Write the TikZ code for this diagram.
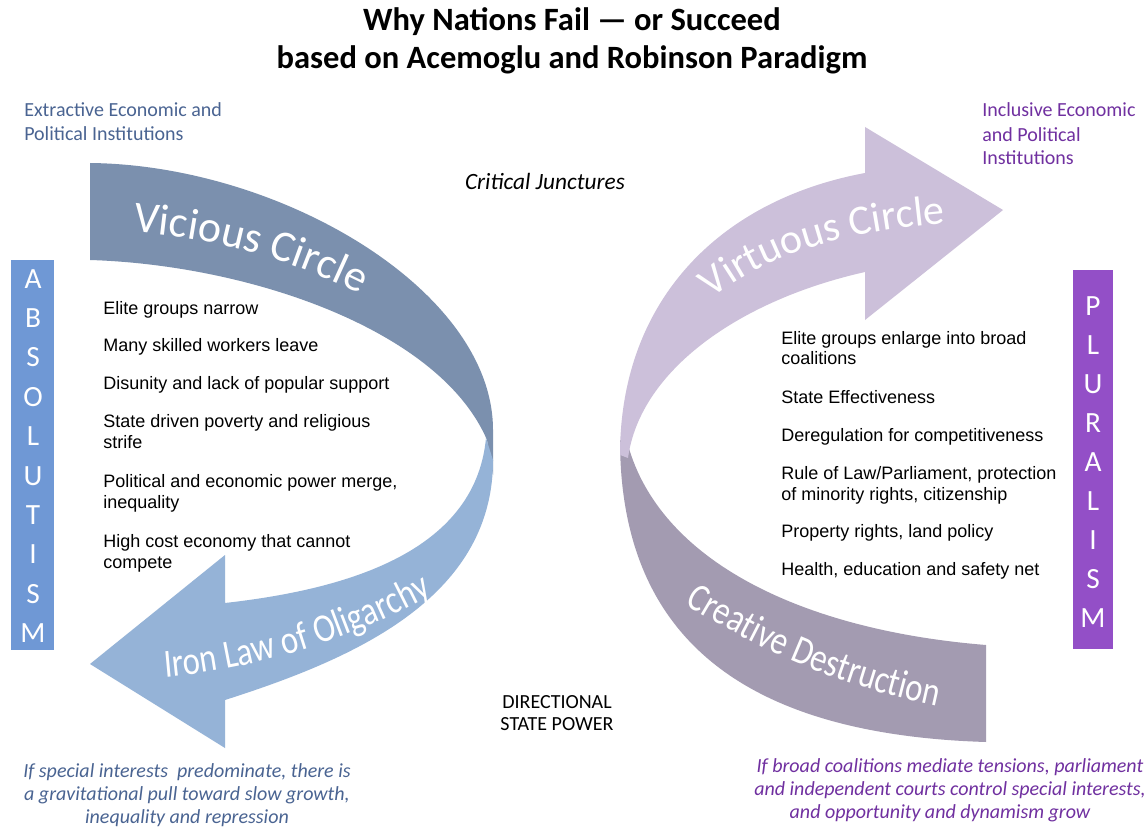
\documentclass[tikz,border=0pt]{standalone}
\usepackage{fontspec}
\setmainfont{Carlito}
\newfontfamily\arialf{Liberation Sans}
\newfontfamily\condf[FakeStretch=0.82]{Carlito}
\usetikzlibrary{decorations.text}
\definecolor{vicious}{HTML}{7B90AE}
\definecolor{iron}{HTML}{95B3D7}
\definecolor{virtuous}{HTML}{CCC0DA}
\definecolor{creative}{HTML}{A39BB1}
\definecolor{absbar}{HTML}{6F98D5}
\definecolor{plubar}{HTML}{934FC7}
\definecolor{extract}{HTML}{4A6492}
\definecolor{inclus}{HTML}{7030A0}
\tikzset{
  bullet/.style={font=\arialf\fontsize{13.5}{16}\selectfont, anchor=base west, inner sep=0pt},
  lbl/.style={font=\fontsize{15}{17}\selectfont, anchor=base west, inner sep=0pt},
  note/.style={font=\itshape\fontsize{15}{17}\selectfont, anchor=base, inner sep=0pt},
  barletter/.style={font=\fontsize{22}{24}\selectfont, text=white, anchor=base, inner sep=0pt},
  ttl/.style={font=\bfseries\fontsize{24.4}{28}\selectfont, anchor=base, inner sep=0pt},
}
\begin{document}
\begin{tikzpicture}[x=0.75pt,y=-0.75pt]
\useasboundingbox (0,0) rectangle (1148,827);
\fill[white] (0,0) rectangle (1148,827);

% title
\node[ttl] (title1) at (572,31) {Why Nations Fail — or Succeed};
\node[ttl] (title2) at (572,69) {based on Acemoglu and Robinson Paradigm};

% left ribbon
\fill[vicious] (90,163) .. controls (280,165) and (493,290) .. (493,430) -- (493,475) -- (487,440) .. controls (440,330) and (250,265) .. (90,260) -- cycle;
\fill[iron] (486,438) -- (493,460) .. controls (493,600) and (350,660) .. (225,700) -- (225,748) -- (90,664) -- (225,555) -- (225,603) .. controls (340,590) and (475,555) .. (486,438) -- cycle;

% right ribbon
\fill[creative] (620,440) .. controls (620,650) and (760,735) .. (986,742) -- (986,645) .. controls (800,630) and (660,560) .. (628,445) -- cycle;
\fill[virtuous] (620,455) .. controls (620,300) and (720,200) .. (865,173) -- (865,127) -- (1003,210) -- (865,320) -- (865,272) .. controls (740,300) and (640,370) .. (628,458) -- cycle;

% curved labels
\path[decorate, decoration={text along path, text align=left,
  text={|\fontsize{33}{36}\selectfont\color{white}|Vicious Circle}}]
  (133,232) .. controls (230,239) and (330,267) .. (440,342);
\path[decorate, decoration={text along path, text align=left,
  text={|\condf\fontsize{30}{34}\selectfont\color{white}|Iron Law of Oligarchy}}]
  (165,677) .. controls (260,669) and (370,636) .. (470,573);
\path[decorate, decoration={text along path, text align=left,
  text={|\fontsize{31.5}{34}\selectfont\color{white}|Virtuous Circle}}]
  (712,299) .. controls (774,249) and (854,229) .. (974,221);
\path[decorate, decoration={text along path, text align=left,
  text={|\condf\fontsize{30}{34}\selectfont\color{white}|Creative Destruction}}]
  (685,604) .. controls (760,650) and (840,690) .. (975,714);

% side bars
\fill[absbar] (11,260) rectangle (54,650);
\fill[plubar] (1073,270) rectangle (1113,649);
\foreach \l [count=\i from 0] in {A,B,S,O,L,U,T,I,S,M}
  \node[barletter] (abs\i) at (33,{288+39.4*\i}) {\l};
\foreach \l [count=\i from 0] in {P,L,U,R,A,L,I,S,M}
  \node[barletter] (plu\i) at (1093,{315+39.1*\i}) {\l};

% corner labels
\node[lbl, text=extract] (ex1) at (24,117) {Extractive Economic and};
\node[lbl, text=extract] (ex2) at (24,141) {Political Institutions};
\node[lbl, text=inclus] (in1) at (982,117) {Inclusive Economic};
\node[lbl, text=inclus] (in2) at (982,142) {and Political};
\node[lbl, text=inclus] (in3) at (982,165) {Institutions};

% centre labels
\node[note, text=black, font=\itshape\fontsize{17.5}{20}\selectfont] (cj) at (545,190) {Critical Junctures};
\node[font=\fontsize{15}{17}\selectfont, anchor=base, inner sep=0pt] (dsp1) at (557,708) {DIRECTIONAL};
\node[font=\fontsize{15}{17}\selectfont, anchor=base, inner sep=0pt] (dsp2) at (557,730) {STATE POWER};

% left list
\node[bullet] (l1) at (103,314) {Elite groups narrow};
\node[bullet] (l2) at (103,351) {Many skilled workers leave};
\node[bullet] (l3) at (103,389) {Disunity and lack of popular support};
\node[bullet] (l4a) at (103,427) {State driven poverty and religious};
\node[bullet] (l4b) at (103,448) {strife};
\node[bullet] (l5a) at (103,487) {Political and economic power merge,};
\node[bullet] (l5b) at (103,508) {inequality};
\node[bullet] (l6a) at (103,547) {High cost economy that cannot};
\node[bullet] (l6b) at (103,568) {compete};

% right list
\node[bullet] (r1a) at (781,344) {Elite groups enlarge into broad};
\node[bullet] (r1b) at (781,364) {coalitions};
\node[bullet] (r2) at (781,403) {State Effectiveness};
\node[bullet] (r3) at (781,441) {Deregulation for competitiveness};
\node[bullet] (r4a) at (781,479) {Rule of Law/Parliament, protection};
\node[bullet] (r4b) at (781,500) {of minority rights, citizenship};
\node[bullet] (r5) at (781,537) {Property rights, land policy};
\node[bullet] (r6) at (781,575) {Health, education and safety net};

% bottom notes
\node[note, text=extract] (bl1) at (187,777) {If special interests\ \ predominate, there is};
\node[note, text=extract] (bl2) at (187,800) {a gravitational pull toward slow growth,};
\node[note, text=extract] (bl3) at (187,823) {inequality and repression};
\node[note, text=inclus] (br1) at (950,772) {If broad coalitions mediate tensions, parliament};
\node[note, text=inclus] (br2) at (950,795) {and independent courts control special interests,};
\node[note, text=inclus] (br3) at (940,818) {and opportunity and dynamism grow};
\end{tikzpicture}
\end{document}
